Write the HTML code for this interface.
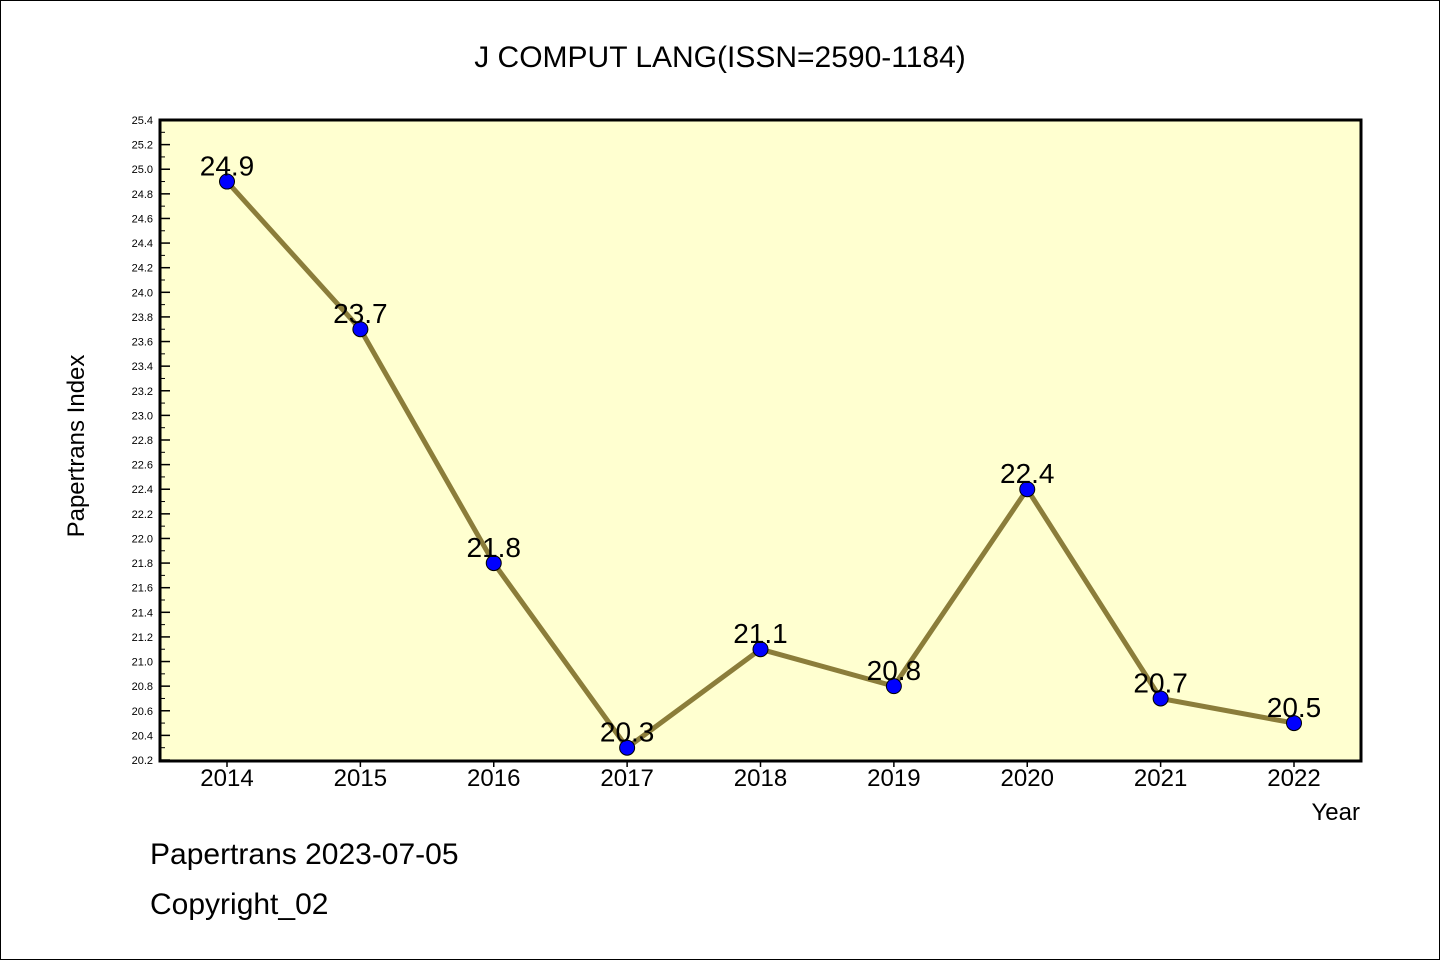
<!DOCTYPE html>
<html><head><meta charset="utf-8"><style>
body{margin:0;background:#fff}
svg text{font-family:"WenQuanYi Zen Hei","Liberation Sans",sans-serif}
</style></head><body>
<svg id="c" width="1440" height="960" xmlns="http://www.w3.org/2000/svg">
<rect x="0.5" y="0.5" width="1439" height="959" fill="#fff" stroke="#000"/>
<text x="720" y="67" font-size="30" text-anchor="middle">J COMPUT LANG(ISSN=2590-1184)</text>
<rect x="160" y="120" width="1201" height="641" fill="#ffffd0"/>
<g id="ticks"></g>
<g id="series"></g>
<rect x="160" y="120" width="1201" height="641" fill="none" stroke="#000" stroke-width="3"/>
<text transform="translate(84,446) rotate(-90)" font-size="24" text-anchor="middle">Papertrans Index</text>
<text x="1360" y="820" font-size="24" text-anchor="end">Year</text>
<text x="150" y="864" font-size="30">Papertrans 2023-07-05</text>
<text x="150" y="914" font-size="30">Copyright_02</text>
</svg>
<script>
const years=[2014,2015,2016,2017,2018,2019,2020,2021,2022];
const values=[24.9,23.7,21.8,20.3,21.1,20.8,22.4,20.7,20.5];
const yTicks=[20.2,20.4,20.6,20.8,21.0,21.2,21.4,21.6,21.8,22.0,22.2,22.4,22.6,22.8,23.0,23.2,23.4,23.6,23.8,24.0,24.2,24.4,24.6,24.8,25.0,25.2,25.4];
const yMin=20.2,yMax=25.4;
const NS="http://www.w3.org/2000/svg";
function sy(v){return 760-(v-yMin)/(yMax-yMin)*640;}
function sx(i){return 227+i*(1294-227)/(years.length-1);}
function mk(t,a,p){const e=document.createElementNS(NS,t);for(const k in a)e.setAttribute(k,a[k]);p.appendChild(e);return e;}
const tg=document.getElementById('ticks'),sg=document.getElementById('series');
yTicks.forEach((v,i)=>{
 const y=sy(v);
 const l=mk('line',{x1:160,x2:170,y1:y,y2:y,stroke:'#000','stroke-width':1.5},tg);
 
 
 if(i<yTicks.length-1){const m=mk('line',{x1:160,x2:165,y1:sy(v+0.1),y2:sy(v+0.1),stroke:'#000','stroke-width':1},tg);
 
 }
 const t=mk('text',{x:153,y:y+4,'font-size':11,'text-anchor':'end'},tg);t.textContent=v.toFixed(1);
 
 
});
years.forEach((yr,i)=>{
 const x=sx(i);
 const l=mk('line',{x1:x,x2:x,y1:761,y2:767,stroke:'#000','stroke-width':1.5},tg);
 
 
 const t=mk('text',{x:x,y:786,'font-size':24,'text-anchor':'middle'},tg);t.textContent=yr;
 
 
});
const pl=mk('polyline',{points:values.map((v,i)=>sx(i)+','+sy(v)).join(' '),fill:'none',stroke:'#8b7d3a','stroke-width':5},sg);


values.forEach((v,i)=>{
 const c=mk('circle',{cx:sx(i),cy:sy(v),r:7.5,fill:'#0000ff',stroke:'#000','stroke-width':1},sg);
 
 
 const t=mk('text',{x:sx(i),y:sy(v)-6,'font-size':28,'text-anchor':'middle'},sg);t.textContent=v.toFixed(1);
 
 
});
</script>
</body></html>
